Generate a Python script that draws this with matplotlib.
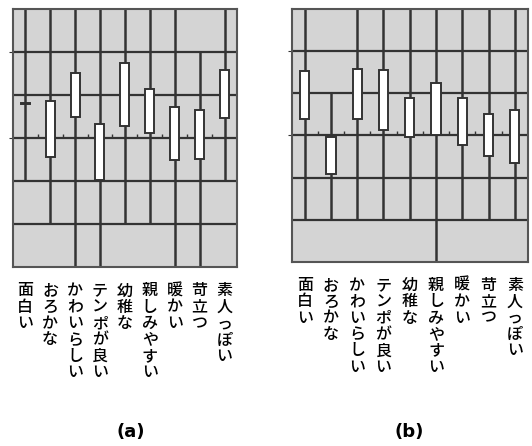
import matplotlib.pyplot as plt

plt.rcParams['font.family'] = ['Noto Sans CJK JP', 'DejaVu Sans']

# カテゴリ(縦書きラベル)
labels = ['面白い', 'おろかな', 'かわいらしい', 'テンポが良い', '幼稚な',
          '親しみやすい', '暖かい', '苛立つ', '素人っぽい']

# (a) 箱の上端・下端
a_high = [0.82, 0.86, 1.52, 0.32, 1.74, 1.15, 0.73, 0.65, 1.57]
a_low = [0.80, -0.43, 0.50, -0.98, 0.28, 0.12, -0.50, -0.48, 0.46]
# (a) 縦線の範囲
a_wtop = [3, 3, 3, 3, 3, 3, 3, 2, 3]
a_wbot = [-1, -2, -3, -3, -2, -2, -3, -3, -1]

# (b) 箱の上端・下端
b_high = [1.53, -0.03, 1.57, 1.56, 0.88, 1.24, 0.88, 0.51, 0.60]
b_low = [0.40, -0.91, 0.38, 0.13, -0.03, 0.00, -0.23, -0.49, -0.65]
# (b) 縦線の範囲
b_wtop = [3, 1, 3, 3, 3, 3, 3, 3, 3]
b_wbot = [-2, -2, -2, -2, -2, -3, -2, -2, -2]

line_c = '#333333'
bg = '#d4d4d4'

fig = plt.figure(figsize=(5.32, 4.46), dpi=100)
ax_a = fig.add_axes([0.024, 0.401, 0.4215, 0.579])
ax_b = fig.add_axes([0.548, 0.413, 0.4445, 0.567])


def draw(ax, high, low, wtop, wbot, width):
    x = list(range(len(labels)))
    ax.set_facecolor(bg)
    ax.set_xlim(-0.5, len(labels) - 0.5)
    ax.set_ylim(-3, 3)
    for y in [-2, -1, 0, 1, 2]:
        ax.axhline(y, color=line_c, lw=1.6, zorder=1)
    ax.vlines(x, wbot, wtop, color=line_c, lw=1.8, zorder=2)
    # 0 の線の小さな目盛り
    ax.vlines([i + 0.5 for i in x], 0, 0.1, color=line_c, lw=1.0, zorder=2)
    heights = [h - l for h, l in zip(high, low)]
    ax.bar(x, heights, bottom=low, width=width, color='white',
           edgecolor=line_c, linewidth=1.4, zorder=3)
    ax.set_xticks(x)
    ax.set_xticklabels(['\n'.join(s) for s in labels], fontsize=11.5,
                       va='top', linespacing=0.95, fontweight='medium')
    ax.tick_params(axis='x', length=0, pad=11)
    ax.set_yticks([0, 2])
    ax.set_yticklabels([])
    ax.tick_params(axis='y', length=3, color=line_c)
    for sp in ax.spines.values():
        sp.set_color('#555555')
        sp.set_linewidth(1.5)


draw(ax_a, a_high, a_low, a_wtop, a_wbot, 0.36)
draw(ax_b, b_high, b_low, b_wtop, b_wbot, 0.35)

fig.text(0.245, 0.02, '(a)', fontsize=13, fontweight='bold', ha='center',
         family=['DejaVu Sans'])
fig.text(0.77, 0.02, '(b)', fontsize=13, fontweight='bold', ha='center',
         family=['DejaVu Sans'])

fig.savefig('out.png', dpi=100)
